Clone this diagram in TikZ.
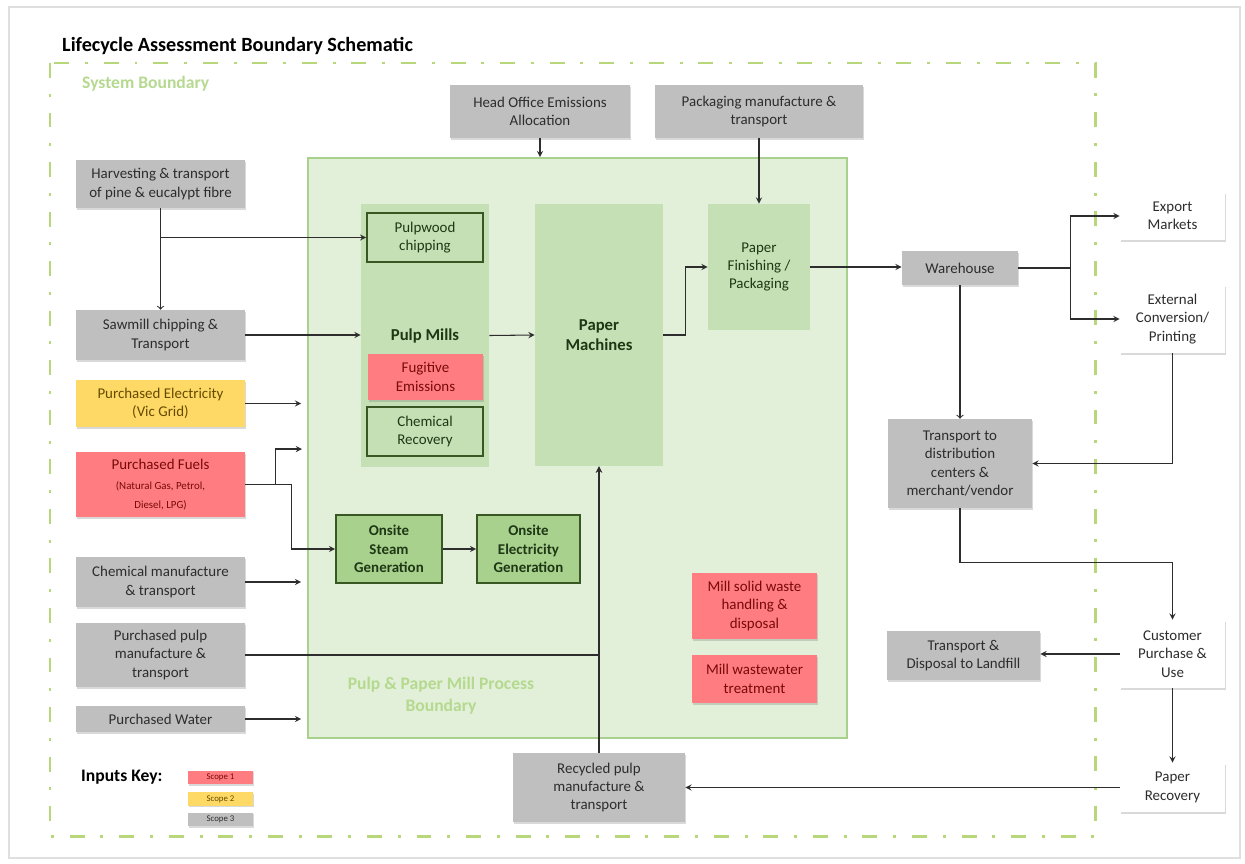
\documentclass[tikz,border=0pt]{standalone}
\usepackage{fontspec}
\setmainfont{Carlito}
\usepackage{tikz}
\usetikzlibrary{arrows,shapes,positioning,shadows}
\usepackage{xcolor}
\definecolor{lcagrey}{RGB}{191,191,191}
\definecolor{lcared}{RGB}{255,124,128}
\definecolor{lcayellow}{RGB}{255,217,102}
\definecolor{lcapale}{RGB}{226,240,217}
\definecolor{lcamid}{RGB}{197,224,180}
\definecolor{lcadeep}{RGB}{169,209,142}
\definecolor{lcaedge}{RGB}{56,87,35}
\definecolor{lcadash}{RGB}{184,214,122}
\definecolor{lcalabel}{RGB}{181,217,143}
\definecolor{lcatext}{RGB}{45,45,45}
\definecolor{lcaredtext}{RGB}{120,10,10}
\definecolor{lcaytext}{RGB}{100,75,0}
\definecolor{lcagtext}{RGB}{30,55,20}
\newcommand{\fuelsmall}{\fontsize{6.2}{8}\selectfont}
\tikzstyle{arrow} = [->,>=stealth,line width=0.6pt,color=lcatext]
\tikzstyle{openarrow} = [->,>=to,line width=0.6pt,color=lcatext]
\tikzstyle{inarrow} = [arrow,shorten >=1.2mm]
\tikzstyle{box} = [rectangle,align=center,inner sep=1pt,font=\fontsize{8.5}{10.5}\selectfont,
  drop shadow={shadow xshift=0.4pt,shadow yshift=-0.9pt,opacity=0.25,fill=black!60}]
\tikzstyle{greybox} = [box,fill=lcagrey,text=lcatext]
\tikzstyle{redbox} = [box,fill=lcared,text=lcaredtext]
\tikzstyle{yellowbox} = [box,fill=lcayellow,text=lcaytext]
\tikzstyle{whitebox} = [box,fill=white,text=lcatext]
\tikzstyle{inputbox} = [minimum width=3.38cm]
\tikzstyle{outbox} = [whitebox,minimum width=2.1cm]
\tikzstyle{millbox} = [rectangle,align=center,fill=lcamid,text=lcagtext,font=\fontsize{9.5}{11.5}\selectfont\bfseries]
\tikzstyle{unitbox} = [rectangle,align=center,inner sep=1pt,fill=lcamid,draw=lcaedge,line width=0.9pt,
  text=lcagtext,font=\fontsize{8.5}{10.5}\selectfont]
\tikzstyle{keybox} = [minimum width=1.3cm,minimum height=0.27cm,inner sep=0pt,font=\fontsize{5}{6}\selectfont]
\begin{document}
\begin{tikzpicture}[x=0.02cm, y=-0.02cm]
    \useasboundingbox (0,0) rectangle (1245,863);
    % Page frame
    \draw[gray!25, line width=0.6pt] (9,7) rectangle (1240,858);

    % Title
    \node[anchor=west, font=\fontsize{11.5}{14}\selectfont\bfseries] (title) at (56,46) {Lifecycle Assessment Boundary Schematic};

    % System boundary
    \draw[lcadash, line width=1.7pt, dash pattern=on 8.5pt off 9pt on 1.7pt off 9pt] (50,63) rectangle (1095,836);
    \node[anchor=west, text=lcalabel, font=\fontsize{10}{12}\selectfont\bfseries] (sysname) at (76,84) {System Boundary};

    % Process boundary
    \node[rectangle, fill=lcapale, draw=lcadeep, line width=1pt, minimum width=10.78cm, minimum height=11.6cm] (procbound) at (577.5,448) {};
    \node[text=lcalabel, align=center, font=\fontsize{10}{12.5}\selectfont\bfseries] (procname) at (441,696) {Pulp \& Paper Mill Process\\Boundary};

    % Pulp mills
    \node[millbox, minimum width=2.56cm, minimum height=5.26cm] (pulpmills) at (425,335.5) {Pulp Mills};
    \node[unitbox, minimum width=2.32cm, minimum height=0.98cm] (pulpwood) at (425,237.5) {Pulpwood\\chipping};
    \node[redbox, minimum width=2.3cm, minimum height=0.92cm] (fugitive) at (425.5,377) {Fugitive\\Emissions};
    \node[unitbox, minimum width=2.32cm, minimum height=0.98cm] (chemrec) at (425,431.5) {Chemical\\Recovery};

    % Paper machines and finishing
    \node[millbox, minimum width=2.56cm, minimum height=5.24cm] (papermach) at (599,335) {Paper\\Machines};
    \node[millbox, font=\fontsize{8.5}{10.5}\selectfont, minimum width=2.04cm, minimum height=2.52cm] (finishing) at (759,267) {Paper\\Finishing /\\Packaging};

    % Onsite energy
    \node[unitbox, fill=lcadeep, font=\fontsize{8.5}{10.5}\selectfont\bfseries, minimum width=2.12cm, minimum height=1.36cm] (steam) at (389,549) {Onsite\\Steam\\Generation};
    \node[unitbox, fill=lcadeep, font=\fontsize{8.5}{10.5}\selectfont\bfseries, minimum width=2.06cm, minimum height=1.36cm] (onelec) at (528.5,549) {Onsite\\Electricity\\Generation};

    % Mill wastes
    \node[redbox, minimum width=2.5cm, minimum height=1.32cm] (solidwaste) at (754.5,606) {Mill solid waste\\handling \&\\disposal};
    \node[redbox, minimum width=2.5cm, minimum height=0.96cm] (wastewater) at (754.5,679) {Mill wastewater\\treatment};

    % Inputs
    \node[greybox, inputbox, minimum height=0.96cm] (harvest) at (160.5,184) {Harvesting \& transport\\of pine \& eucalypt fibre};
    \node[greybox, inputbox, minimum height=1.0cm] (sawmill) at (160.5,335) {Sawmill chipping \&\\Transport};
    \node[yellowbox, inputbox, minimum height=0.94cm] (elec) at (160.5,403.5) {Purchased Electricity\\(Vic Grid)};
    \node[redbox, inputbox, minimum height=1.3cm] (fuels) at (160.5,484.5) {Purchased Fuels\\[1pt]\fuelsmall (Natural Gas, Petrol,\\\fuelsmall Diesel, LPG)};
    \node[greybox, inputbox, minimum height=1.0cm] (chem) at (160.5,582) {Chemical manufacture\\\& transport};
    \node[greybox, inputbox, minimum height=1.28cm] (pulpin) at (160.5,655) {Purchased pulp\\manufacture \&\\transport};
    \node[greybox, inputbox, minimum height=0.52cm] (water) at (160.5,719) {Purchased Water};
    \node[greybox, minimum width=3.6cm, minimum height=1.06cm] (headoffice) at (540,111.5) {Head Office Emissions\\Allocation};
    \node[greybox, minimum width=4.16cm, minimum height=1.06cm] (packaging) at (759,111.5) {Packaging manufacture \&\\transport};
    \node[greybox, minimum width=3.44cm, minimum height=1.38cm] (recycled) at (599,787.5) {Recycled pulp\\manufacture \&\\transport};

    % Distribution and use
    \node[greybox, minimum width=2.32cm, minimum height=0.68cm] (warehouse) at (960,268) {Warehouse};
    \node[outbox, minimum height=0.96cm] (export) at (1172.5,216) {Export\\Markets};
    \node[outbox, minimum height=1.36cm] (external) at (1172.5,319) {External\\Conversion/\\Printing};
    \node[greybox, minimum width=2.88cm, minimum height=1.78cm] (distrib) at (960,463.5) {Transport to\\distribution\\centers \&\\merchant/vendor};
    \node[outbox, minimum height=1.36cm] (customer) at (1172.5,654) {Customer\\Purchase \&\\Use};
    \node[greybox, minimum width=3.06cm, minimum height=0.98cm] (landfill) at (963.5,655.5) {Transport \&\\Disposal to Landfill};
    \node[outbox, minimum height=0.98cm] (recovery) at (1172.5,787.5) {Paper\\Recovery};

    % Key
    \node[anchor=west, font=\fontsize{10}{12}\selectfont\bfseries] (keyname) at (75,777) {Inputs Key:};
    \node[redbox, keybox] (scope1) at (220.5,777.5) {Scope 1};
    \node[yellowbox, keybox] (scope2) at (220.5,799) {Scope 2};
    \node[greybox, keybox] (scope3) at (220.5,819.5) {Scope 3};

    % Input flows
    \draw[openarrow] (harvest.south) -- (sawmill.north);
    \draw[arrow] (harvest.south |- pulpwood.west) -- (pulpwood.west);
    \draw[arrow] (sawmill.east) -- (sawmill.east -| pulpmills.west);
    \draw[inarrow] (elec.east) -- (elec.east -| procbound.west);
    \coordinate (fuelin) at (308,449);
    \draw[inarrow] (fuels.east) -- ++(30,0) |- (fuelin);
    \draw[arrow] (fuels.east) -- ++(46,0) |- (steam.west);
    \draw[inarrow] (chem.east) -- (chem.east -| procbound.west);
    \draw[arrow] (pulpin.east) -| (papermach.south);
    \draw[inarrow] (water.east) -- (water.east -| procbound.west);
    \draw[arrow] (headoffice.south) -- (headoffice.south |- procbound.north);
    \draw[arrow] (packaging.south) -- (finishing.north);

    % Mill flows
    \draw[arrow] (pulpmills.east) -- (papermach.west);
    \draw[arrow] (papermach.east) -- ++(22,0) |- (finishing.west);
    \draw[arrow] (steam.east) -- (onelec.west);
    \draw[arrow] (recycled.north) -- (papermach.south);

    % Product flows
    \draw[arrow] (finishing.east) -- (finishing.east -| warehouse.west);
    \draw[arrow] (warehouse.east) -- ++(52,0) coordinate (split) |- (export.west);
    \draw[arrow] (split) |- (external.west);
    \draw[openarrow] (warehouse.south) -- (warehouse.south |- distrib.north);
    \draw[arrow] (external.south) |- (distrib.east);
    \draw[arrow] (distrib.south) -- ++(0,54) -| (customer.north);
    \draw[arrow] (customer.west) -- (customer.west -| landfill.east);
    \draw[arrow] (customer.south) -- (recovery.north);
    \draw[arrow] (recovery.west) -- (recovery.west -| recycled.east);
\end{tikzpicture}
\end{document}
